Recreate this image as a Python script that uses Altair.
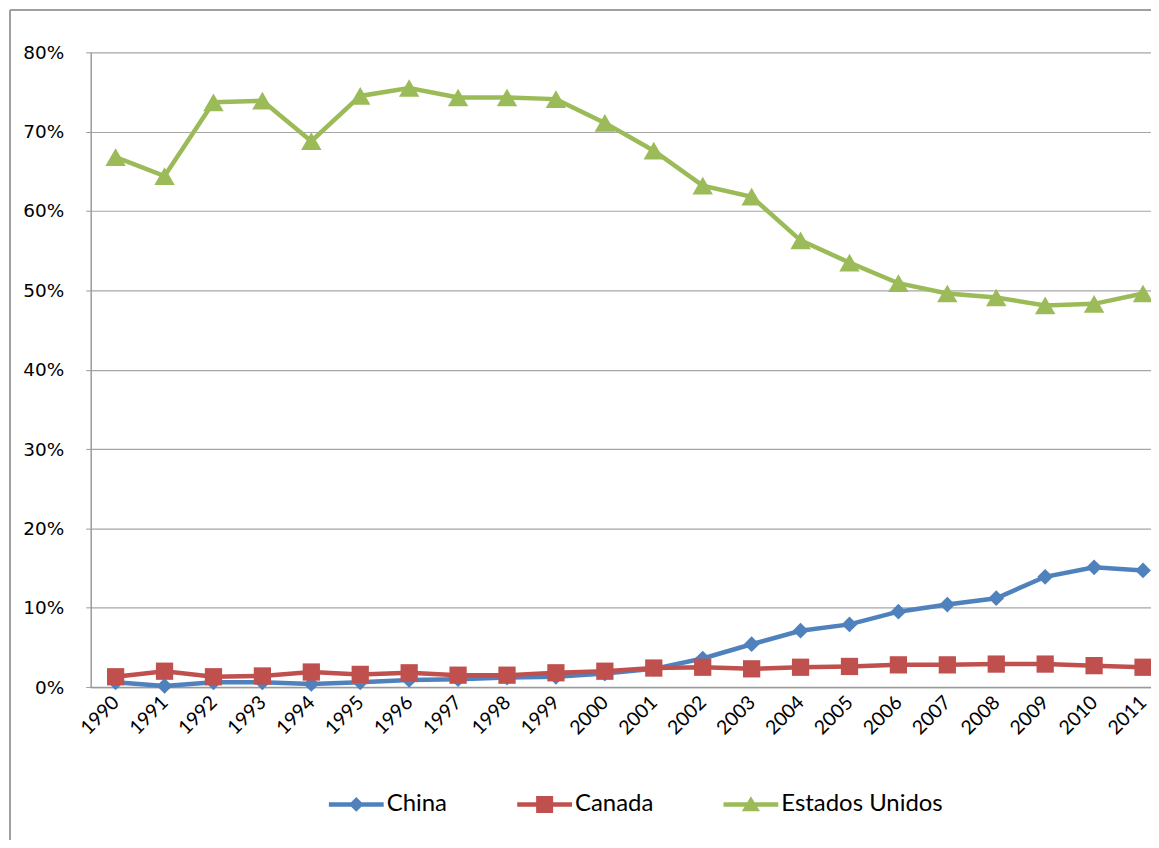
import altair as alt
import pandas as pd

years = list(range(1990, 2012))
series_names = ["China", "Canada", "Estados Unidos"]
colors = ["#4F81BD", "#C0504D", "#9BBB59"]

china = [0.6, 0.15, 0.6, 0.6, 0.4, 0.6, 0.9, 1.0, 1.2, 1.3, 1.7, 2.3,
         3.6, 5.4, 7.1, 7.9, 9.5, 10.4, 11.2, 13.9, 15.1, 14.7]
canada = [1.3, 2.0, 1.3, 1.4, 1.9, 1.6, 1.8, 1.5, 1.5, 1.8, 2.0, 2.4,
          2.5, 2.3, 2.5, 2.6, 2.8, 2.8, 2.9, 2.9, 2.7, 2.5]
usa = [66.8, 64.4, 73.7, 73.9, 68.8, 74.5, 75.5, 74.3, 74.3, 74.1, 71.1, 67.6,
       63.2, 61.8, 56.3, 53.5, 50.9, 49.6, 49.1, 48.1, 48.3, 49.6]
y_ticks = [0, 10, 20, 30, 40, 50, 60, 70, 80]

rows = []
for name, vals in zip(series_names, [china, canada, usa]):
    for yr, v in zip(years, vals):
        rows.append({"year": yr, "value": v, "series": name})
df = pd.DataFrame(rows)

x_enc = alt.X("year:Q",
              scale=alt.Scale(domain=[1989.491, 2011.163], nice=False, zero=False),
              axis=alt.Axis(values=years, format="d", labelAngle=-45, labelAlign="right",
                            labelBaseline="middle", labelPadding=12, ticks=False,
                            grid=False, domainColor="#9a9a9a", domainWidth=1.5,
                            labelFont="Lato", labelFontSize=19.5, labelColor="#000",
                            title=None))
y_enc = alt.Y("value:Q",
              scale=alt.Scale(domain=[0, 80], nice=False),
              axis=alt.Axis(values=y_ticks, labelExpr="datum.value + '%'",
                            tickSize=5, tickColor="#9a9a9a", labelPadding=22,
                            gridColor="#a6a6a6", gridWidth=1.2, domainColor="#9a9a9a",
                            domainWidth=1.5, labelFont="DejaVu Sans", labelFontSize=18.5,
                            labelColor="#000", title=None))

color_scale = alt.Scale(domain=series_names, range=colors)

marker_shapes = ["diamond", "square", "triangle-up"]
marker_sizes = [250, 300, 420]

line_layers = []
point_layers = []
for name, col, shp, sz in zip(series_names, colors, marker_shapes, marker_sizes):
    base = alt.Chart(df).transform_filter(alt.datum.series == name)
    line_layers.append(base.mark_line(strokeWidth=4.5, color=col).encode(x=x_enc, y=y_enc))
    point_layers.append(
        base.mark_point(filled=True, opacity=1, shape=shp, size=sz, color=col)
        .encode(x=x_enc, y=y_enc)
    )

# legend symbols: a short line with the series marker on it (filled paths)
legend_paths = [
    "M-1,-0.082H1V0.082H-1ZM0,-0.27L0.27,0L0,0.27L-0.27,0Z",
    "M-1,-0.082H1V0.082H-1ZM-0.31,-0.31H0.31V0.31H-0.31Z",
    "M-1,-0.082H1V0.082H-1ZM0,-0.3L0.33,0.25H-0.33Z",
]

legend_layer = alt.Chart(df).mark_point(filled=True, opacity=1, size=3025).encode(
    x=alt.value(-3000), y=alt.value(-3000),
    color=alt.Color("series:N", scale=color_scale, legend=alt.Legend(title=None)),
    shape=alt.Shape("series:N",
                    scale=alt.Scale(domain=series_names, range=legend_paths),
                    legend=alt.Legend(title=None)),
)

border_top = alt.Chart(df).mark_rule(color="#a0a0a0", strokeWidth=1.5).encode(
    x=alt.value(-81), x2=alt.value(1100), y=alt.value(-42.5))
border_left = alt.Chart(df).mark_rule(color="#a0a0a0", strokeWidth=1.5).encode(
    x=alt.value(-81), y=alt.value(-42.5), y2=alt.value(820))

chart = alt.layer(border_top, border_left, *line_layers, *point_layers, legend_layer).properties(
    width=1064, height=637,
    autosize=alt.AutoSizeParams(type="none"),
    padding={"left": 83, "top": 43, "right": 0, "bottom": 152},
).configure_view(stroke=None).configure_legend(
    orient="none", legendX=239, legendY=727, direction="horizontal",
    symbolSize=3025, symbolStrokeWidth=0, columnPadding=70,
    labelFont="Lato", labelFontSize=24, labelColor="#000", labelLimit=400,
    labelOffset=3,
)

chart.save("out.html", embed_options={"renderer": "svg", "actions": False})
